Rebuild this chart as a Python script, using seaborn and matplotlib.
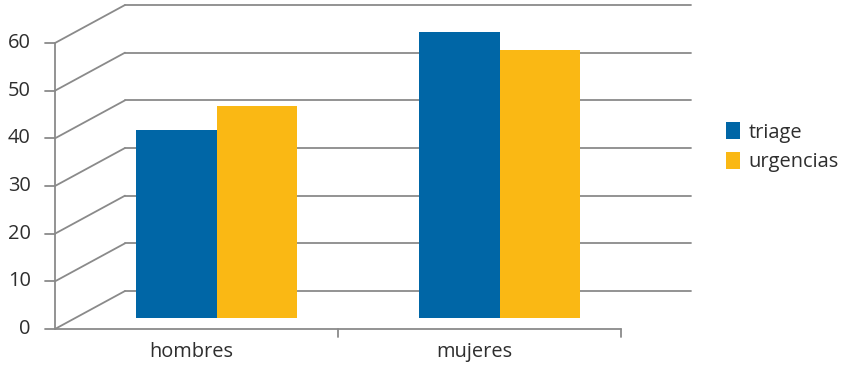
import matplotlib
matplotlib.use("Agg")
import matplotlib.pyplot as plt
import seaborn as sns
import pandas as pd
from matplotlib.lines import Line2D
from matplotlib.transforms import IdentityTransform, offset_copy
from matplotlib.patches import Patch

categories = ["hombres", "mujeres"]
series = ["triage", "urgencias"]
triage = [39.5, 60.0]
urgencias = [44.5, 56.2]
yticks = [0, 10, 20, 30, 40, 50, 60]
colors = ["#0066A6", "#FAB814"]

sns.set_style("white")
plt.rcParams["font.family"] = ["Open Sans", "DejaVu Sans"]

TXT = "#2e2e2e"
GRID = "#8a8a8a"
FS = 14.4
W, H = 844, 368
fig = plt.figure(figsize=(W / 100, H / 100), dpi=100)

# bar plane axes (pixel geometry of the pseudo-3D plane)
left, right, bottom, top = 75, 641, 318, 32
ax = fig.add_axes([left / W, (H - bottom) / H, (right - left) / W, (bottom - top) / H])

df = pd.DataFrame({
    "cat": categories * 2,
    "serie": [series[0]] * 2 + [series[1]] * 2,
    "val": triage + urgencias,
})
sns.barplot(data=df, x="cat", y="val", hue="serie", palette=colors, width=0.57,
            saturation=1, linewidth=0, ax=ax, legend=False, zorder=3)
ax.set_xlim(-0.5, 1.5)
ax.set_ylim(0, 60)
ax.set_axis_off()

# back wall gridlines
back = offset_copy(ax.transData, fig=fig, x=50, y=27, units="dots")
for k in yticks:
    ax.plot([-0.5, 1.5], [k, k], color=GRID, lw=1.3, transform=back, clip_on=False, zorder=1)

def px(xd, yd, dx=0, dy=0):
    p = ax.transData.transform((xd, yd))
    return p[0] + dx, p[1] + dy

def line(p1, p2, **kw):
    fig.add_artist(Line2D([p1[0], p2[0]], [p1[1], p2[1]], transform=IdentityTransform(),
                          color=GRID, lw=1.3, **kw))

FX, FY = -20, -11  # front plane offset
# diagonals and y ticks
for k in yticks:
    f = px(-0.5, k, FX, FY)
    b = px(-0.5, k, 50, 27)
    line(f, b)
    line((f[0] - 10, f[1]), f)
    fig.text((f[0] - 24) / W, f[1] / H, str(k), ha="right", va="center",
             fontsize=FS, color=TXT)
# front y axis
line(px(-0.5, 0, FX, FY), px(-0.5, 60, FX, FY))
# front x axis
line(px(-0.5, 0, FX, FY), px(1.5, 0, FX, FY))
for xb in [0.5, 1.5]:
    p = px(xb, 0, FX, FY)
    line(p, (p[0], p[1] - 8))
for i, c in enumerate(categories):
    p = px(i, 0, FX, FY)
    fig.text((p[0] - 5) / W, (H - 352) / H, c, ha="center", va="center",
             fontsize=FS, color=TXT)

handles = [Patch(facecolor=col, edgecolor="none", label=s) for s, col in zip(series, colors)]
fig.legend(handles=handles, loc="center left", bbox_to_anchor=(726 / W, (H - 147) / H),
           frameon=False, fontsize=FS, handlelength=0.72, handleheight=0.95,
           handletextpad=0.4, labelspacing=0.45, borderpad=0, borderaxespad=0,
           labelcolor=TXT)

fig.savefig("out.png", dpi=100)
